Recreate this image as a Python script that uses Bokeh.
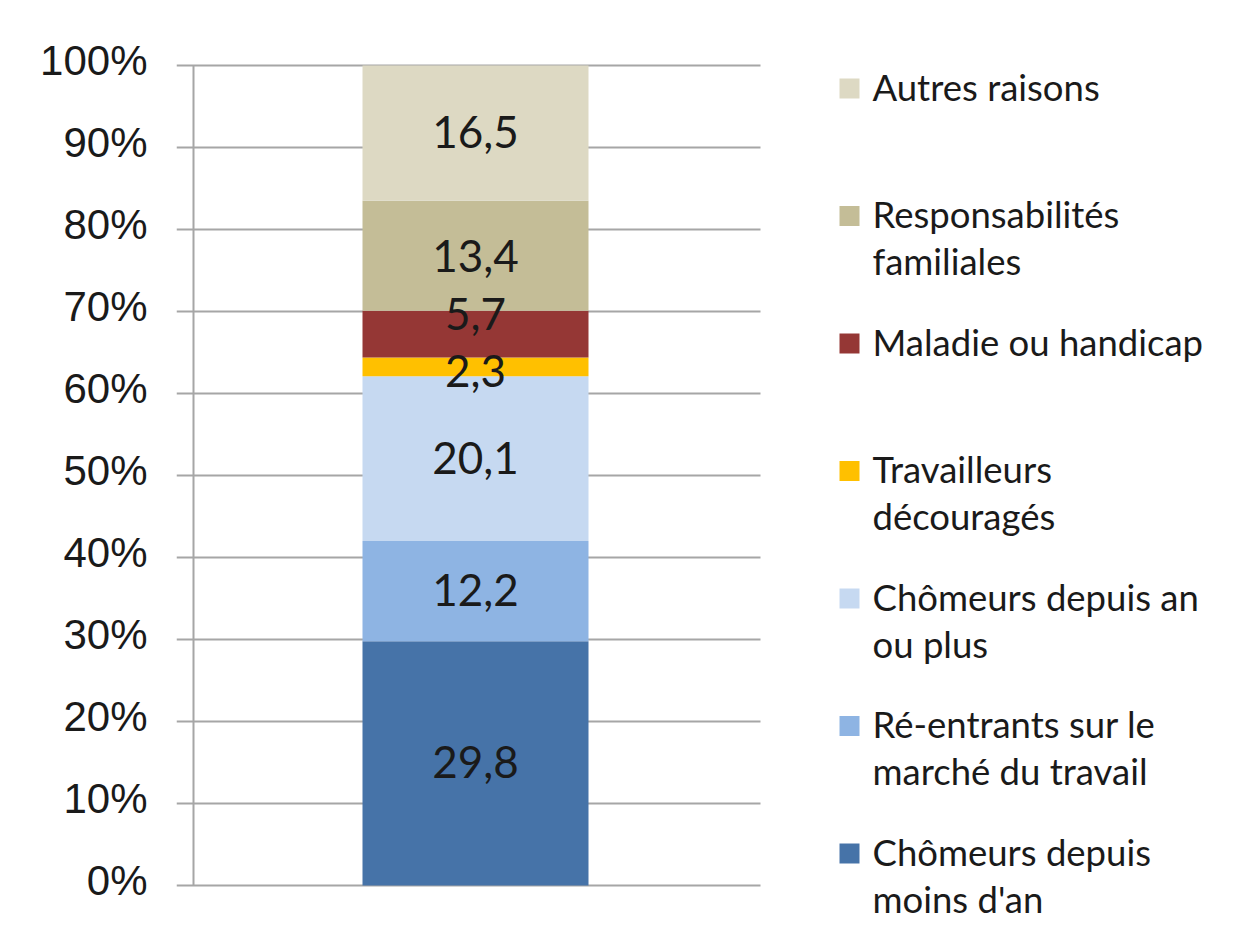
from bokeh.plotting import figure
from bokeh.models import Range1d, FixedTicker, ColumnDataSource
from bokeh.core.properties import value
from bokeh.embed import file_html
from bokeh.resources import INLINE

# ---- data (bottom to top of the stack) ----
categories = [
    "Chômeurs depuis\nmoins d'an",
    "Ré-entrants sur le\nmarché du travail",
    "Chômeurs depuis an\nou plus",
    "Travailleurs\ndécouragés",
    "Maladie ou handicap",
    "Responsabilités\nfamiliales",
    "Autres raisons",
]
values = [29.8, 12.2, 20.1, 2.3, 5.7, 13.4, 16.5]
colors = ["#4673A8", "#8EB4E3", "#C6D9F1", "#FFC000", "#953735", "#C4BD97", "#DDD9C3"]
label_nudge_px = [-1, -1, -1, 4, -20, 0, -1]   # screen px, + = down (Excel collision avoidance)
y_ticks = [0, 10, 20, 30, 40, 50, 60, 70, 80, 90, 100]
y_tick_labels = [f"{t}%" for t in y_ticks]

# ---- layout (pixel based, picture coordinates) ----
W, H = 1225, 922
Y100, Y0 = 65, 885            # picture y of 100 % and 0 %
ML, MR, MT, MB = 176, 0, 40, 0
frame_w = W - ML - MR
px_per_unit = (Y0 - Y100) / 100.0
yend = 100 + (Y100 - MT) / px_per_unit
ymin = -(H - MB - Y0) / px_per_unit

p = figure(width=W, height=H, output_backend="svg", toolbar_location=None,
           x_range=Range1d(0, frame_w), y_range=Range1d(ymin, yend),
           min_border_left=ML, min_border_right=MR, min_border_top=MT, min_border_bottom=MB)
p.outline_line_color = None
p.background_fill_color = "white"
p.border_fill_color = "white"
p.xgrid.visible = False
p.ygrid.visible = False
p.xaxis.visible = False

# axis on a range shifted a few px so the label glyphs sit centred on the gridlines
d = 5 / px_per_unit
p.extra_y_ranges = {"ax": Range1d(ymin - d, yend - d)}
yax = p.yaxis[0]
yax.y_range_name = "ax"
yax.ticker = FixedTicker(ticks=y_ticks)
yax.major_label_overrides = {t: l for t, l in zip(y_ticks, y_tick_labels)}
yax.axis_line_color = None
yax.major_tick_line_color = None
yax.minor_tick_line_color = None
yax.major_tick_out = 0
yax.major_tick_in = 0
yax.major_label_standoff = 29
yax.major_label_text_font = "Liberation Sans"
yax.major_label_text_font_size = "42px"
yax.major_label_text_color = "#1a1a1a"

grid_color = "#A6A6A6"
# horizontal gridlines
p.segment(x0=[0] * len(y_ticks), x1=[584] * len(y_ticks), y0=y_ticks, y1=y_ticks,
          line_color=grid_color, line_width=2)
# vertical axis line
p.segment(x0=[17], x1=[17], y0=[0], y1=[100], line_color=grid_color, line_width=2)

# stacked bar
bottoms, tops = [], []
acc = 0.0
for v in values:
    bottoms.append(acc)
    acc += v
    tops.append(acc)
bar_x = 299
bar_w = 226
src = ColumnDataSource(dict(
    x=[bar_x] * len(values), bottom=bottoms, top=tops, color=colors,
    mid=[(b + t) / 2 for b, t in zip(bottoms, tops)],
    lab=[f"{v:.1f}".replace(".", ",") for v in values],
    yoff=label_nudge_px,
))
p.vbar(x="x", width=bar_w, bottom="bottom", top="top", fill_color="color",
       line_color=None, source=src)
p.text(x="x", y="mid", text="lab", y_offset="yoff", source=src,
       text_align="center", text_baseline="middle",
       text_font=value("Lato"), text_font_size="44px", text_color="#1a1a1a")

# legend (top to bottom)
leg_sq_x = 673
leg_txt_x = 696
first_mid_px = 86          # picture y of middle of first legend line
item_step_px = 127.5
line_step_px = 47
sq_x, sq_y, sq_c = [], [], []
tx, ty, tt = [], [], []
for i, idx in enumerate(reversed(range(len(categories)))):
    mid_px = first_mid_px + i * item_step_px
    sq_x.append(leg_sq_x)
    sq_y.append((Y0 - (mid_px + 2)) / px_per_unit)
    sq_c.append(colors[idx])
    for j, line in enumerate(categories[idx].split("\n")):
        tx.append(leg_txt_x)
        ty.append((Y0 - (mid_px + j * line_step_px)) / px_per_unit)
        tt.append(line)
p.scatter(x=sq_x, y=sq_y, marker="square", size=20, fill_color=sq_c, line_color=None)
p.text(x=tx, y=ty, text=tt, text_align="left", text_baseline="middle",
       text_font=value("Lato"), text_font_size="36.5px", text_color="#1a1a1a")

open("out.html", "w").write(file_html(p, INLINE))
